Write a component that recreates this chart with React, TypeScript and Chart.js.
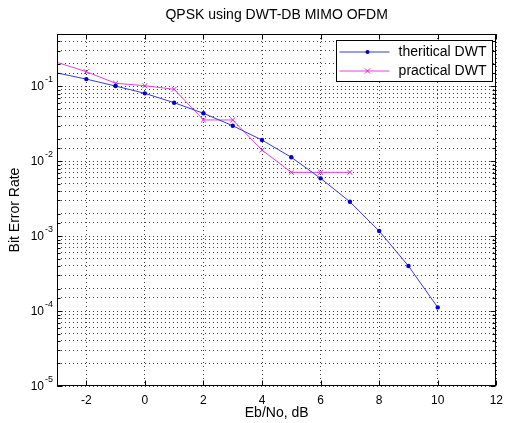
import React, { useEffect, useRef } from 'react';
import { Chart, registerables } from 'chart.js';

Chart.register(...registerables);

const titleText = 'QPSK using DWT-DB MIMO OFDM';
const xAxisTitle = 'Eb/No, dB';
const yAxisTitle = 'Bit Error Rate';
const seriesLabels = ['theritical DWT', 'practical DWT'];

const ebNoTheoretical = [-3, -2, -1, 0, 1, 2, 3, 4, 5, 6, 7, 8, 9, 10];
const berTheoretical = [0.151, 0.125, 0.101, 0.0807, 0.0605, 0.0437, 0.0298, 0.0192, 0.0113, 0.00592, 0.00288, 0.00117, 0.0004, 0.000112];

const ebNoPractical = [-3, -2, -1, 0, 1, 2, 3, 4, 5, 6, 7];
const berPractical = [0.209, 0.157, 0.11, 0.102, 0.0914, 0.0356, 0.0356, 0.0141, 0.00712, 0.00712, 0.00712];

const xMin = -3;
const xMax = 12;
const xStep = 2;
const yMin = 1e-5;
const yMax = 0.5;

const FONT = "'Liberation Sans', Arial, Helvetica, sans-serif";
const BLUE_LINE = '#3a3acb';
const BLUE_MARK = '#0000cc';
const MAG_LINE = '#e044e0';
const MAG_MARK = '#e022e0';

const matlabPlugin = {
  id: 'matlabFrame',
  afterDraw(chart: any) {
    const { ctx, chartArea } = chart;
    const xs = chart.scales.x;
    const ys = chart.scales.y;
    const L = Math.round(chartArea.left) + 0.5;
    const R = Math.round(chartArea.right) - 0.5;
    const T = Math.round(chartArea.top) + 0.5;
    const B = Math.round(chartArea.bottom) - 0.5;
    ctx.save();
    ctx.strokeStyle = '#000';
    ctx.lineWidth = 1;
    ctx.setLineDash([]);
    ctx.strokeRect(L, T, R - L, B - T);
    ctx.beginPath();
    xs.ticks.forEach((t: any) => {
      const px = Math.round(xs.getPixelForValue(t.value)) + 0.5;
      ctx.moveTo(px, B);
      ctx.lineTo(px, B - 5);
      ctx.moveTo(px, T);
      ctx.lineTo(px, T + 5);
    });
    ys.ticks.forEach((t: any) => {
      const v = t.value;
      const lg = Math.log10(v);
      const major = Math.abs(lg - Math.round(lg)) < 1e-6;
      const len = major ? 5 : 3;
      const py = Math.round(ys.getPixelForValue(v)) + 0.5;
      ctx.moveTo(L, py);
      ctx.lineTo(L + len, py);
      ctx.moveTo(R, py);
      ctx.lineTo(R - len, py);
    });
    ctx.stroke();

    ctx.fillStyle = '#000';
    ys.ticks.forEach((t: any) => {
      const v = t.value;
      const lg = Math.log10(v);
      if (Math.abs(lg - Math.round(lg)) > 1e-6) return;
      const exp = String(Math.round(lg));
      const py = ys.getPixelForValue(v);
      ctx.font = `9px ${FONT}`;
      ctx.textAlign = 'right';
      ctx.textBaseline = 'alphabetic';
      const ew = ctx.measureText(exp).width;
      ctx.fillText(exp, chartArea.left - 4, py - 4);
      ctx.font = `12px ${FONT}`;
      ctx.textBaseline = 'middle';
      ctx.fillText('10', chartArea.left - 5 - ew, py + 0.5);
    });

    const lx0 = Math.round(chartArea.right) - 159.5;
    const lx1 = Math.round(chartArea.right) - 3.5;
    const ly0 = Math.round(chartArea.top) + 6.5;
    const ly1 = ly0 + 41;
    ctx.fillStyle = '#fff';
    ctx.fillRect(lx0, ly0, lx1 - lx0, ly1 - ly0);
    ctx.strokeStyle = '#000';
    ctx.strokeRect(lx0, ly0, lx1 - lx0, ly1 - ly0);
    const rows = [
      { y: ly0 + 11.5, line: BLUE_LINE, mark: BLUE_MARK, kind: 'dot', label: seriesLabels[0] },
      { y: ly0 + 30.5, line: MAG_LINE, mark: MAG_MARK, kind: 'x', label: seriesLabels[1] },
    ];
    rows.forEach((r) => {
      const sx0 = lx0 + 3;
      const sx1 = lx0 + 53;
      const mx = (sx0 + sx1) / 2 + 3;
      ctx.strokeStyle = r.line;
      ctx.lineWidth = 1;
      ctx.beginPath();
      ctx.moveTo(sx0, r.y);
      ctx.lineTo(sx1, r.y);
      ctx.stroke();
      if (r.kind === 'dot') {
        ctx.fillStyle = r.mark;
        ctx.beginPath();
        ctx.arc(mx, r.y, 2, 0, Math.PI * 2);
        ctx.fill();
      } else {
        ctx.strokeStyle = r.mark;
        ctx.beginPath();
        ctx.moveTo(mx - 2.5, r.y - 2.5);
        ctx.lineTo(mx + 2.5, r.y + 2.5);
        ctx.moveTo(mx - 2.5, r.y + 2.5);
        ctx.lineTo(mx + 2.5, r.y - 2.5);
        ctx.stroke();
      }
      ctx.fillStyle = '#000';
      ctx.font = `14px ${FONT}`;
      ctx.textAlign = 'right';
      ctx.textBaseline = 'middle';
      ctx.fillText(r.label, lx1 - 6, r.y + 0.5);
    });
    ctx.restore();
  },
};

export default function App() {
  const canvasRef = useRef<HTMLCanvasElement | null>(null);

  useEffect(() => {
    const canvas = canvasRef.current;
    if (!canvas) return;
    const chart = new Chart(canvas, {
      type: 'line',
      data: {
        datasets: [
          {
            label: seriesLabels[0],
            data: ebNoTheoretical.map((x, i) => ({ x, y: berTheoretical[i] })),
            borderColor: BLUE_LINE,
            backgroundColor: BLUE_MARK,
            borderWidth: 1,
            pointStyle: 'circle',
            pointRadius: (c: any) => (c.parsed && c.parsed.x <= xMin ? 0 : 2.2),
            pointBackgroundColor: BLUE_MARK,
            pointBorderColor: BLUE_MARK,
            pointBorderWidth: 0,
            tension: 0,
          },
          {
            label: seriesLabels[1],
            data: ebNoPractical.map((x, i) => ({ x, y: berPractical[i] })),
            borderColor: MAG_LINE,
            backgroundColor: MAG_MARK,
            borderWidth: 1,
            pointStyle: 'crossRot',
            pointRadius: (c: any) => (c.parsed && c.parsed.x <= xMin ? 0 : 3.5),
            pointBorderColor: MAG_MARK,
            pointBorderWidth: 1,
            tension: 0,
          },
        ],
      },
      plugins: [matlabPlugin],
      options: {
        animation: false,
        responsive: false,
        devicePixelRatio: 1,
        layout: { padding: { top: 0, right: 4, bottom: 0, left: 0 } },
        plugins: {
          legend: { display: false },
          tooltip: { enabled: false },
          title: {
            display: true,
            text: titleText,
            color: '#000',
            fullSize: false,
            font: { family: FONT, size: 14, weight: 'normal' },
            padding: { top: 7, bottom: 10.2 },
          },
        },
        scales: {
          x: {
            type: 'linear',
            min: xMin,
            max: xMax,
            afterFit: (s: any) => {
              s.height = 37;
            },
            ticks: {
              stepSize: xStep,
              includeBounds: false,
              color: '#000',
              font: { family: FONT, size: 12 },
              padding: 7,
              maxRotation: 0,
            },
            grid: {
              color: 'rgba(0,0,0,0.75)',
              lineWidth: 1,
              drawTicks: false,
            },
            border: { display: false, dash: [1, 3] },
            title: {
              display: true,
              text: xAxisTitle,
              color: '#000',
              font: { family: FONT, size: 14 },
              padding: { top: 0, bottom: 1 },
            },
          },
          y: {
            type: 'logarithmic',
            min: yMin,
            max: yMax,
            afterFit: (s: any) => {
              s.width = 57;
            },
            ticks: { display: false },
            grid: {
              color: 'rgba(0,0,0,0.75)',
              lineWidth: 1,
              drawTicks: false,
            },
            border: { display: false, dash: [1, 3] },
            title: {
              display: true,
              text: yAxisTitle,
              color: '#000',
              font: { family: FONT, size: 14 },
              padding: { top: 7, bottom: 0 },
            },
          },
        },
      },
    } as any);
    return () => chart.destroy();
  }, []);

  return (
    <div style={{ position: 'absolute', left: 0, top: 0, width: 510, height: 423, background: '#fff' }}>
      <canvas ref={canvasRef} width={510} height={423} style={{ display: 'block', width: 510, height: 423 }} />
    </div>
  );
}
